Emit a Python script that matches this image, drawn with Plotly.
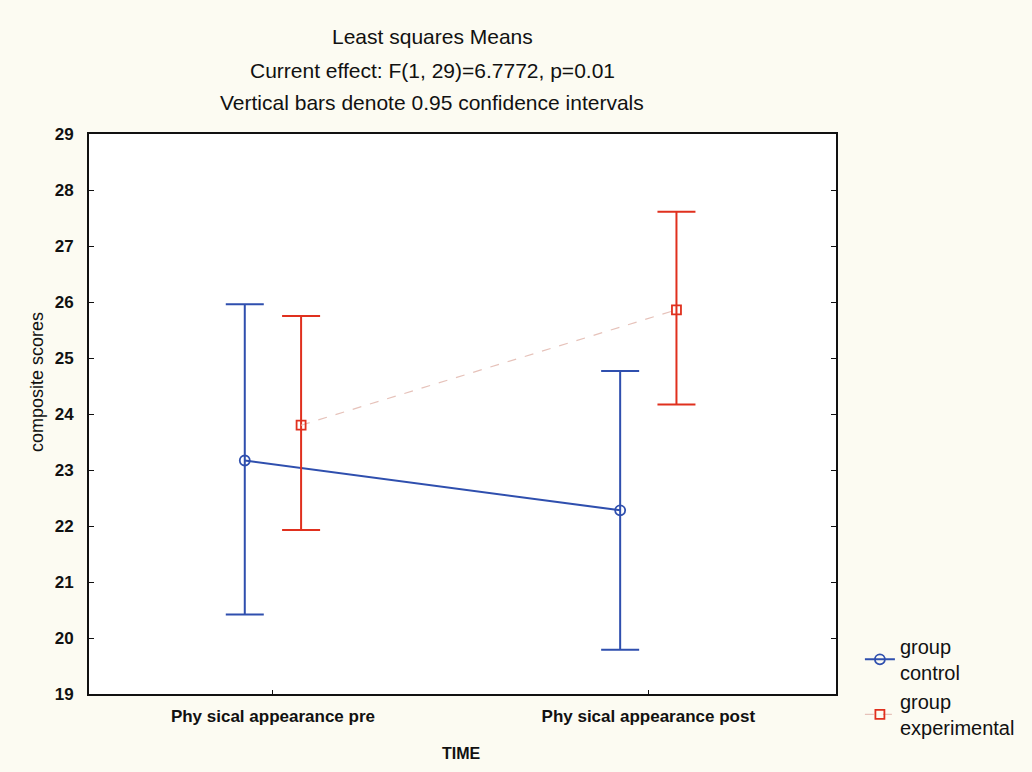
import plotly.graph_objects as go

categories = ["Phy sical appearance pre", "Phy sical appearance post"]
control_mean = [23.17, 22.28]
control_lower = [20.42, 19.79]
control_upper = [25.96, 24.77]
exp_mean = [23.80, 25.86]
exp_lower = [21.93, 24.17]
exp_upper = [25.75, 27.61]

offset = 0.075
idx = list(range(len(categories)))

BLUE = "#2f4fae"
RED = "#e0301e"

fig = go.Figure()
fig.add_trace(go.Scatter(
    x=[i - offset for i in idx], y=control_mean,
    mode="lines+markers", name="group<br>control",
    line=dict(color=BLUE, width=2),
    marker=dict(symbol="circle-open", size=10, color=BLUE, line=dict(width=1.8)),
    error_y=dict(type="data", symmetric=False,
                 array=[u - m for u, m in zip(control_upper, control_mean)],
                 arrayminus=[m - l for m, l in zip(control_mean, control_lower)],
                 color=BLUE, thickness=2, width=19),
))
fig.add_trace(go.Scatter(
    x=[i + offset for i in idx], y=exp_mean,
    mode="lines+markers", name="group<br>experimental",
    line=dict(color="#e6c2ba", width=1.2, dash="dash"),
    marker=dict(symbol="square-open", size=9, color=RED, line=dict(width=1.8, color=RED)),
    error_y=dict(type="data", symmetric=False,
                 array=[u - m for u, m in zip(exp_upper, exp_mean)],
                 arrayminus=[m - l for m, l in zip(exp_mean, exp_lower)],
                 color=RED, thickness=2, width=19),
))

fig.update_layout(
    width=1032, height=772,
    margin=dict(l=89, r=196, t=134, b=78),
    paper_bgcolor="#fcfbf2", plot_bgcolor="#ffffff",
    font=dict(family="Liberation Sans, Arial, sans-serif", color="#111111"),
    showlegend=True,
    legend=dict(x=1.032, y=0.12, xanchor="left", yanchor="top",
                bgcolor="rgba(0,0,0,0)", font=dict(size=20, color="#111111"),
                tracegroupgap=0),
)
fig.update_xaxes(
    range=[-0.49, 1.5], tickvals=idx, ticktext=categories,
    showline=True, linecolor="#111111", linewidth=2, mirror=True,
    ticks="inside", ticklen=4, tickcolor="#111111", showgrid=False, zeroline=False,
    tickfont=dict(size=17, weight="bold"), ticklabelstandoff=6,
)
fig.update_yaxes(
    range=[19, 29], dtick=1,
    showline=True, linecolor="#111111", linewidth=2, mirror="allticks",
    ticks="inside", ticklen=5, tickcolor="#111111", showgrid=False, zeroline=False,
    tickfont=dict(size=17, weight="bold"), ticklabelstandoff=10,
)

fig.add_annotation(text="composite scores", xref="paper", yref="paper",
                   x=(37 - 89) / 747, y=(694 - 382) / 560, textangle=-90,
                   xanchor="center", yanchor="middle", showarrow=False,
                   font=dict(size=18, color="#111111"))
fig.add_annotation(text="TIME", xref="paper", yref="paper",
                   x=(461 - 89) / 747, y=(694 - 753) / 560,
                   xanchor="center", yanchor="middle", showarrow=False,
                   font=dict(size=16, weight="bold", color="#111111"))

titles = ["Least squares Means",
          "Current effect: F(1, 29)=6.7772, p=0.01",
          "Vertical bars denote 0.95 confidence intervals"]
title_y = [37, 71, 103]
for t, yy in zip(titles, title_y):
    fig.add_annotation(text=t, xref="paper", yref="paper",
                       x=(432 - 89) / 747, y=(694 - yy) / 560, xanchor="center", yanchor="middle",
                       showarrow=False, font=dict(size=21, color="#111111"))

fig.write_html("out.html", config={"displayModeBar": False},
               post_script="document.body.style.margin='0';")
